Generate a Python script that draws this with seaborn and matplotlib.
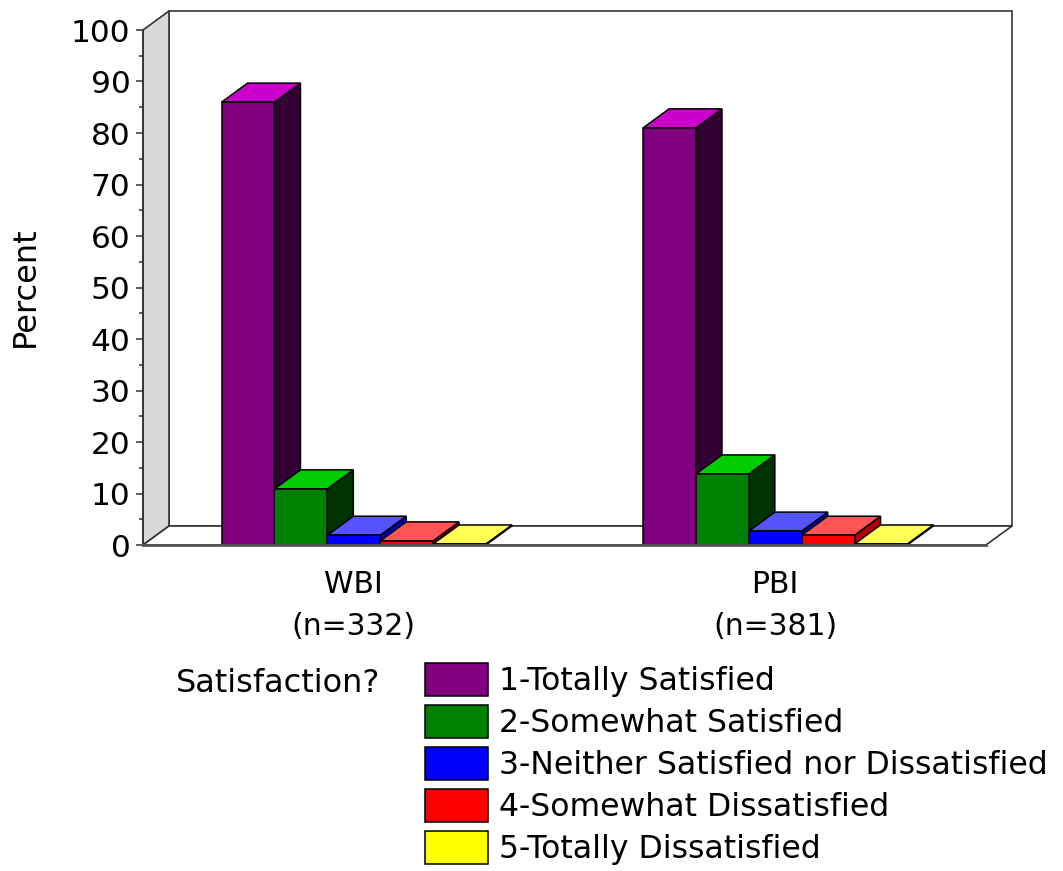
import matplotlib
matplotlib.use('Agg')
import matplotlib.pyplot as plt
import seaborn as sns
import pandas as pd
from matplotlib.patches import Polygon
from matplotlib.ticker import MultipleLocator

# data
groups = ['WBI\n(n=332)', 'PBI\n(n=381)']
levels = ['1-Totally Satisfied', '2-Somewhat Satisfied',
          '3-Neither Satisfied nor Dissatisfied',
          '4-Somewhat Dissatisfied', '5-Totally Dissatisfied']
wbi_values = [86, 10.9, 1.9, 0.8, 0.2]
pbi_values = [81, 13.8, 2.7, 1.9, 0.2]

front_colors = ['#800080', '#008000', '#0000FF', '#FF0000', '#FFFF00']
top_colors = ['#CC00CC', '#00CC00', '#5555FF', '#FF5555', '#FFFF55']
side_colors = ['#330033', '#003300', '#0000B0', '#B00000', '#888800']

df = pd.DataFrame({
    'group': [groups[0]] * 5 + [groups[1]] * 5,
    'level': levels * 2,
    'percent': wbi_values + pbi_values,
})

W, H = 1063, 871
fig = plt.figure(figsize=(W / 100, H / 100), dpi=100)
ax = fig.add_axes([143 / W, 1 - 545 / H, 843 / W, 515 / H])
ax.patch.set_alpha(0)

sns.barplot(data=df, x='group', y='percent', hue='level', ax=ax,
            palette=front_colors, width=0.627, gap=0, saturation=1,
            edgecolor='black', linewidth=1.1)
ax.set_xlim(-0.5, 1.5)
ax.set_ylim(0, 100)

# depth of the fake 3d box, in data units
dx = 26 / 421.5
dy = 19 / 5.15
x0, x1 = -0.5, 1.5
edge = '#333333'

ax.add_patch(Polygon([(x0 + dx, dy), (x1 + dx, dy), (x1 + dx, 100 + dy), (x0 + dx, 100 + dy)],
                     fc='white', ec=edge, lw=1.2, clip_on=False, zorder=0.5))
ax.add_patch(Polygon([(x0, 0), (x0 + dx, dy), (x0 + dx, 100 + dy), (x0, 100)],
                     fc='#D8D8D8', ec=edge, lw=1.2, clip_on=False, zorder=0.6))
ax.add_patch(Polygon([(x0, 0), (x1, 0), (x1 + dx, dy), (x0 + dx, dy)],
                     fc='white', ec=edge, lw=1.2, clip_on=False, zorder=0.6))

# add tops and sides to the bars seaborn drew
n = 0
bars = []
for c, container in enumerate(ax.containers):
    for rect in container:
        bars.append((rect.get_x(), rect, c))
bars.sort(key=lambda b: b[0])
for x, rect, c in bars:
    w = rect.get_width()
    h = rect.get_height()
    z = 3 + n
    ax.add_patch(Polygon([(x + w, 0), (x + w + dx, dy), (x + w + dx, h + dy), (x + w, h)],
                         fc=side_colors[c], ec='black', lw=1.1, clip_on=False, zorder=z))
    ax.add_patch(Polygon([(x, h), (x + w, h), (x + w + dx, h + dy), (x + dx, h + dy)],
                         fc=top_colors[c], ec='black', lw=1.1, clip_on=False, zorder=z))
    rect.set_zorder(z + 0.5)
    n += 1

ax.yaxis.set_major_locator(MultipleLocator(10))
ax.yaxis.set_minor_locator(MultipleLocator(5))
ax.tick_params(axis='y', which='major', length=5, width=1.1, color=edge, labelsize=22.5, pad=4)
ax.tick_params(axis='y', which='minor', length=3, width=1.1, color=edge)
ax.tick_params(axis='x', length=0, labelsize=21.5, pad=18)
for label in ax.get_xticklabels():
    label.set_linespacing(1.55)
ax.set_xlabel('')
ax.set_ylabel('')
fig.text(25 / W, 1 - 287 / H, 'Percent', rotation=90, fontsize=23, ha='center', va='center')

sns.despine(ax=ax, top=True, right=True)
ax.spines['left'].set_color(edge)
ax.spines['left'].set_linewidth(1.1)
ax.spines['bottom'].set_color('#555555')
ax.spines['bottom'].set_linewidth(2)
ax.spines['bottom'].set_zorder(20)

sns.move_legend(ax, 'upper left', bbox_to_anchor=(425 / W, 1 - 663 / H),
                bbox_transform=fig.transFigure, title=None, frameon=False,
                fontsize=22.7, borderpad=0, borderaxespad=0,
                handlelength=2.0, handleheight=1.24,
                handletextpad=0.35, labelspacing=0.25)
fig.text(176 / W, 1 - 684 / H, 'Satisfaction?', fontsize=23, ha='left', va='center')

plt.savefig('out.png', dpi=100)
